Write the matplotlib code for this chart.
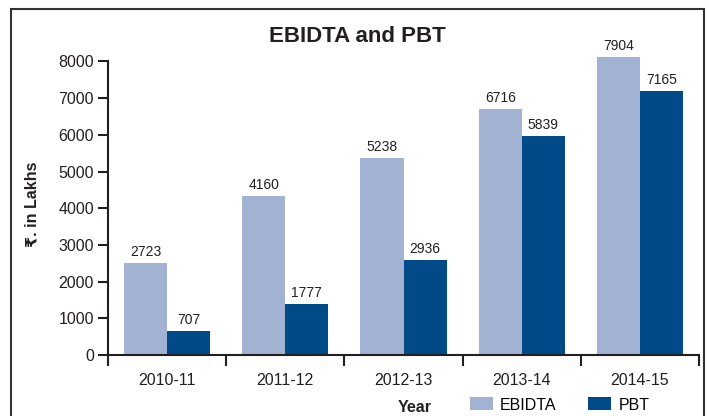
import matplotlib
matplotlib.use('Agg')
import matplotlib.pyplot as plt
from matplotlib import font_manager
from matplotlib.patches import Rectangle
import numpy as np

plt.rcParams['font.family'] = ['Liberation Sans', 'DejaVu Sans']

# Data ----------------------------
years = ['2010-11', '2011-12', '2012-13', '2013-14', '2014-15']
ebidta_bars = [2515, 4340, 5368, 6703, 8120]   # drawn bar heights
pbt_bars = [654, 1390, 2589, 5967, 7193]
ebidta_labels = ['2723', '4160', '5238', '6716', '7904']  # printed values
pbt_labels = ['707', '1777', '2936', '5839', '7165']

EBIDTA_COLOR = '#a1b2d2'
PBT_COLOR = '#004a87'
AXIS_COLOR = '#231f20'

# Narrow face for the value labels, if it is installed.
names = {f.name for f in font_manager.fontManager.ttflist}
if 'Liberation Sans Narrow' in names:
    label_font = dict(family=['Liberation Sans Narrow', 'DejaVu Sans'], fontsize=11)
else:
    label_font = dict(fontsize=10)

fig = plt.figure(figsize=(7.09, 4.16), dpi=100)
ax = fig.add_axes([108 / 709, 1 - 355 / 416, (699 - 108) / 709, 0.870 - (1 - 355 / 416)])

x = np.arange(len(years))
w = 0.364
b1 = ax.bar(x - w / 2, ebidta_bars, w, color=EBIDTA_COLOR, label='EBIDTA')
b2 = ax.bar(x + w / 2, pbt_bars, w, color=PBT_COLOR, label='PBT')

# Value labels above bars.
for bars, labels in ((b1, ebidta_labels), (b2, pbt_labels)):
    for rect, txt in zip(bars, labels):
        ax.annotate(txt, (rect.get_x() + rect.get_width() / 2, rect.get_height()),
                    xytext=(0, 3), textcoords='offset points',
                    ha='center', va='bottom', color='#231f20', **label_font)

ax.set_xlim(-0.5, len(years) - 0.5)
ax.set_ylim(0, 8200)
ax.set_yticks(np.arange(0, 8001, 1000))

ax.set_xticks(x)
ax.set_xticklabels(years)
ax.set_xticks(np.arange(-0.5, len(years), 1), minor=True)
ax.tick_params(axis='x', which='major', length=0, pad=13, labelsize=11.5, labelcolor=AXIS_COLOR)
ax.tick_params(axis='x', which='minor', length=8, width=1.5, color=AXIS_COLOR, direction='out')
ax.tick_params(axis='y', length=7, width=1.5, color=AXIS_COLOR, pad=3, labelsize=11.5, labelcolor=AXIS_COLOR)

for side in ('top', 'right'):
    ax.spines[side].set_visible(False)
for side in ('left', 'bottom'):
    ax.spines[side].set_linewidth(1.5)
    ax.spines[side].set_color(AXIS_COLOR)
ax.spines['left'].set_bounds(0, 8000)

ax.set_ylabel('₹. in Lakhs', fontsize=11.5, fontweight='bold', color=AXIS_COLOR, labelpad=14)

fig.text(357 / 709, 1 - 37 / 416, 'EBIDTA and PBT', ha='center', va='center',
         fontsize=16, fontweight='bold', color=AXIS_COLOR)
fig.text(415 / 709, 1 - 408 / 416, 'Year', ha='center', va='center',
         fontsize=11.5, fontweight='bold', color=AXIS_COLOR)

fig.legend(handles=[b1, b2], loc='center left', bbox_to_anchor=(470 / 709, 1 - 405 / 416),
           ncol=2, frameon=False, fontsize=11.5, handlelength=1.44, handleheight=0.875,
           handletextpad=0.44, columnspacing=2.0, borderaxespad=0, borderpad=0)

# Outer frame, running off the bottom edge.
fig.patches.append(Rectangle((11 / 709, -0.05), (704 - 11) / 709, 1 - 9 / 416 + 0.05,
                             transform=fig.transFigure, fill=False,
                             edgecolor='#333333', linewidth=1.5))

fig.savefig('out.png', dpi=100)
